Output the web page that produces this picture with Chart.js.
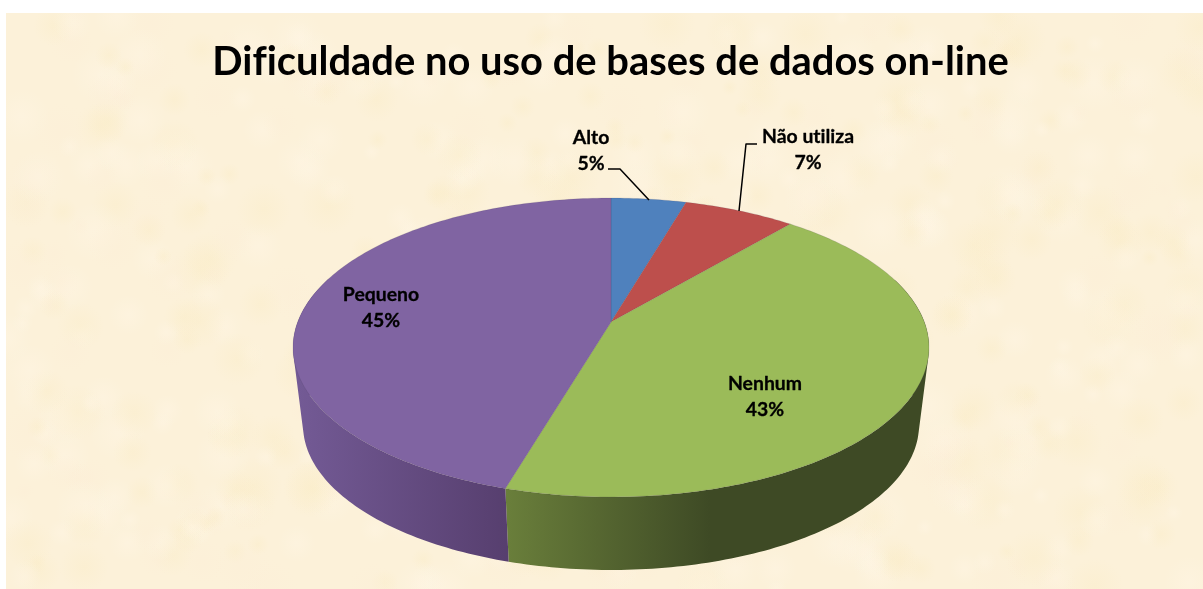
<!DOCTYPE html>
<html><head><meta charset="utf-8">
<style>html,body{margin:0;padding:0;background:#fff}canvas{display:block}</style>
<script src="https://cdn.jsdelivr.net/npm/chart.js@4"></script>
</head><body>
<canvas id="c" width="1203" height="589"></canvas>
<script>
const titleText = 'Dificuldade no uso de bases de dados on-line';
const categories = ['Alto', 'Não utiliza', 'Nenhum', 'Pequeno'];
const shares = [4.5, 6.7, 43.35, 45.45];
const sliceColors = ['#4f81bd', '#bd4f4c', '#9bbb59', '#8064a2'];
const sideFrom = ['#3f6797', '#97403d', '#6a7f3b', '#735a95'];
const sideTo = ['#2d4a6e', '#6e2e2c', '#3e4a25', '#573f6f'];
const sideGradX = [[611, 700], [690, 800], [505, 710], [298, 505]];

const labelAt = [[591, 138], [808, 137], [765, 384], [381, 295]];
const leaders = [[[608, 169], [620, 169], [649, 200]], [[757, 144], [746, 144], [739, 211]], null, null];

/* perspective frame of the disc: top face and its lower rim */
const K = -0.1706, RX = 313.3, RY = 145.1, CX = 611;
const topFace = { y0: 322, s: 1 };
const lowFace = { y0: 400.5, s: 0.9686 };
function project(a, f) {
  const u = Math.cos(a), v = Math.sin(a), w = 1 + K * v;
  return [CX + f.s * RX * u / w, f.y0 + f.s * RY * v / w];
}
function hash(n) { const t = Math.sin(n * 127.1 + 11.7) * 43758.5453; return t - Math.floor(t); }

const disc3d = {
  id: 'disc3d',
  beforeDraw(chart) {
    const ctx = chart.ctx;
    ctx.textRendering = 'optimizeSpeed';
    ctx.save();
    ctx.fillStyle = '#fff';
    ctx.fillRect(0, 0, 1203, 589);
    ctx.beginPath(); ctx.rect(6, 13, 1197, 576); ctx.clip();
    ctx.fillStyle = '#fcf1d9';
    ctx.fillRect(6, 13, 1197, 576);
    for (let i = 0; i < 700; i++) {
      const x = 6 + hash(i) * 1197, y = 13 + hash(i + 1000) * 576, r = 8 + hash(i + 2000) * 22;
      const tone = hash(i + 3000);
      const col = tone < 0.35 ? '250,236,198' : tone < 0.8 ? '255,246,230' : '252,238,215';
      const g = ctx.createRadialGradient(x, y, 0, x, y, r);
      g.addColorStop(0, 'rgba(' + col + ',0.4)');
      g.addColorStop(1, 'rgba(' + col + ',0)');
      ctx.fillStyle = g;
      ctx.fillRect(x - r, y - r, 2 * r, 2 * r);
    }
    ctx.restore();
  },
  beforeDatasetsDraw(chart) {
    const ctx = chart.ctx, arcs = chart.getDatasetMeta(0).data;
    ctx.save();
    const step = Math.PI / 180;
    // side wall: all facets of a slice in one path, wound the same way, so no seams
    arcs.forEach((arc, i) => {
      const g = ctx.createLinearGradient(sideGradX[i][0], 0, sideGradX[i][1], 0);
      g.addColorStop(0, sideFrom[i]); g.addColorStop(1, sideTo[i]);
      const s = arc.startAngle, e = arc.endAngle;
      const n = Math.max(2, Math.ceil((e - s) / step));
      ctx.beginPath();
      for (let j = 0; j < n; j++) {
        const a0 = s + (e - s) * j / n, a1 = s + (e - s) * (j + 1) / n;
        if (Math.sin(a0) < -0.3 && Math.sin(a1) < -0.3) continue;
        const p = [project(a0, topFace), project(a1, topFace), project(a1, lowFace), project(a0, lowFace)];
        let area = 0;
        p.forEach((q, m) => { const r = p[(m + 1) % 4]; area += q[0] * r[1] - r[0] * q[1]; });
        if (area < 0) p.reverse();
        p.forEach((q, m) => m ? ctx.lineTo(q[0], q[1]) : ctx.moveTo(q[0], q[1]));
        ctx.closePath();
      }
      ctx.fillStyle = g; ctx.fill('nonzero');
    });
    // top face
    arcs.forEach((arc, i) => {
      ctx.beginPath();
      ctx.moveTo(CX, topFace.y0);
      const s = arc.startAngle, e = arc.endAngle;
      const n = Math.max(2, Math.ceil((e - s) / step));
      for (let j = 0; j <= n; j++) { const p = project(s + (e - s) * j / n, topFace); ctx.lineTo(p[0], p[1]); }
      ctx.closePath();
      ctx.fillStyle = sliceColors[i]; ctx.fill();
      ctx.strokeStyle = 'rgba(60,50,80,0.2)'; ctx.lineWidth = 0.7; ctx.stroke();
    });
    ctx.restore();
    return false;
  },
  afterDraw(chart) {
    const ctx = chart.ctx, ds = chart.data.datasets[0];
    ctx.save();
    ctx.strokeStyle = '#000'; ctx.lineWidth = 1.5; ctx.lineJoin = 'round';
    leaders.forEach(l => {
      if (!l) return;
      ctx.beginPath();
      l.forEach((p, j) => j ? ctx.lineTo(p[0], p[1]) : ctx.moveTo(p[0], p[1]));
      ctx.stroke();
    });
    ctx.fillStyle = '#000';
    ctx.font = 'bold 19.4px Lato';
    ctx.lineWidth = 0.3;
    ctx.textAlign = 'center'; ctx.textBaseline = 'middle';
    chart.data.labels.forEach((name, i) => {
      const y = labelAt[i][1], x = labelAt[i][0], pct = Math.round(ds.data[i]) + '%';
      ctx.fillText(name, x, y); ctx.strokeText(name, x, y);
      ctx.fillText(pct, x, y + 26); ctx.strokeText(pct, x, y + 26);
    });
    ctx.restore();
  }
};

new Chart(document.getElementById('c'), {
  type: 'pie',
  data: { labels: categories, datasets: [{ data: shares, backgroundColor: sliceColors, borderWidth: 0 }] },
  options: {
    responsive: false,
    animation: false,
    layout: { padding: { left: 18 } },
    plugins: {
      legend: { display: false },
      tooltip: { enabled: false },
      title: {
        display: true, text: titleText, color: '#000',
        font: { family: 'Lato', weight: 'bold', size: 39.9 },
        padding: { top: 38, bottom: 10 }
      }
    }
  },
  plugins: [disc3d]
});
</script>
</body></html>
